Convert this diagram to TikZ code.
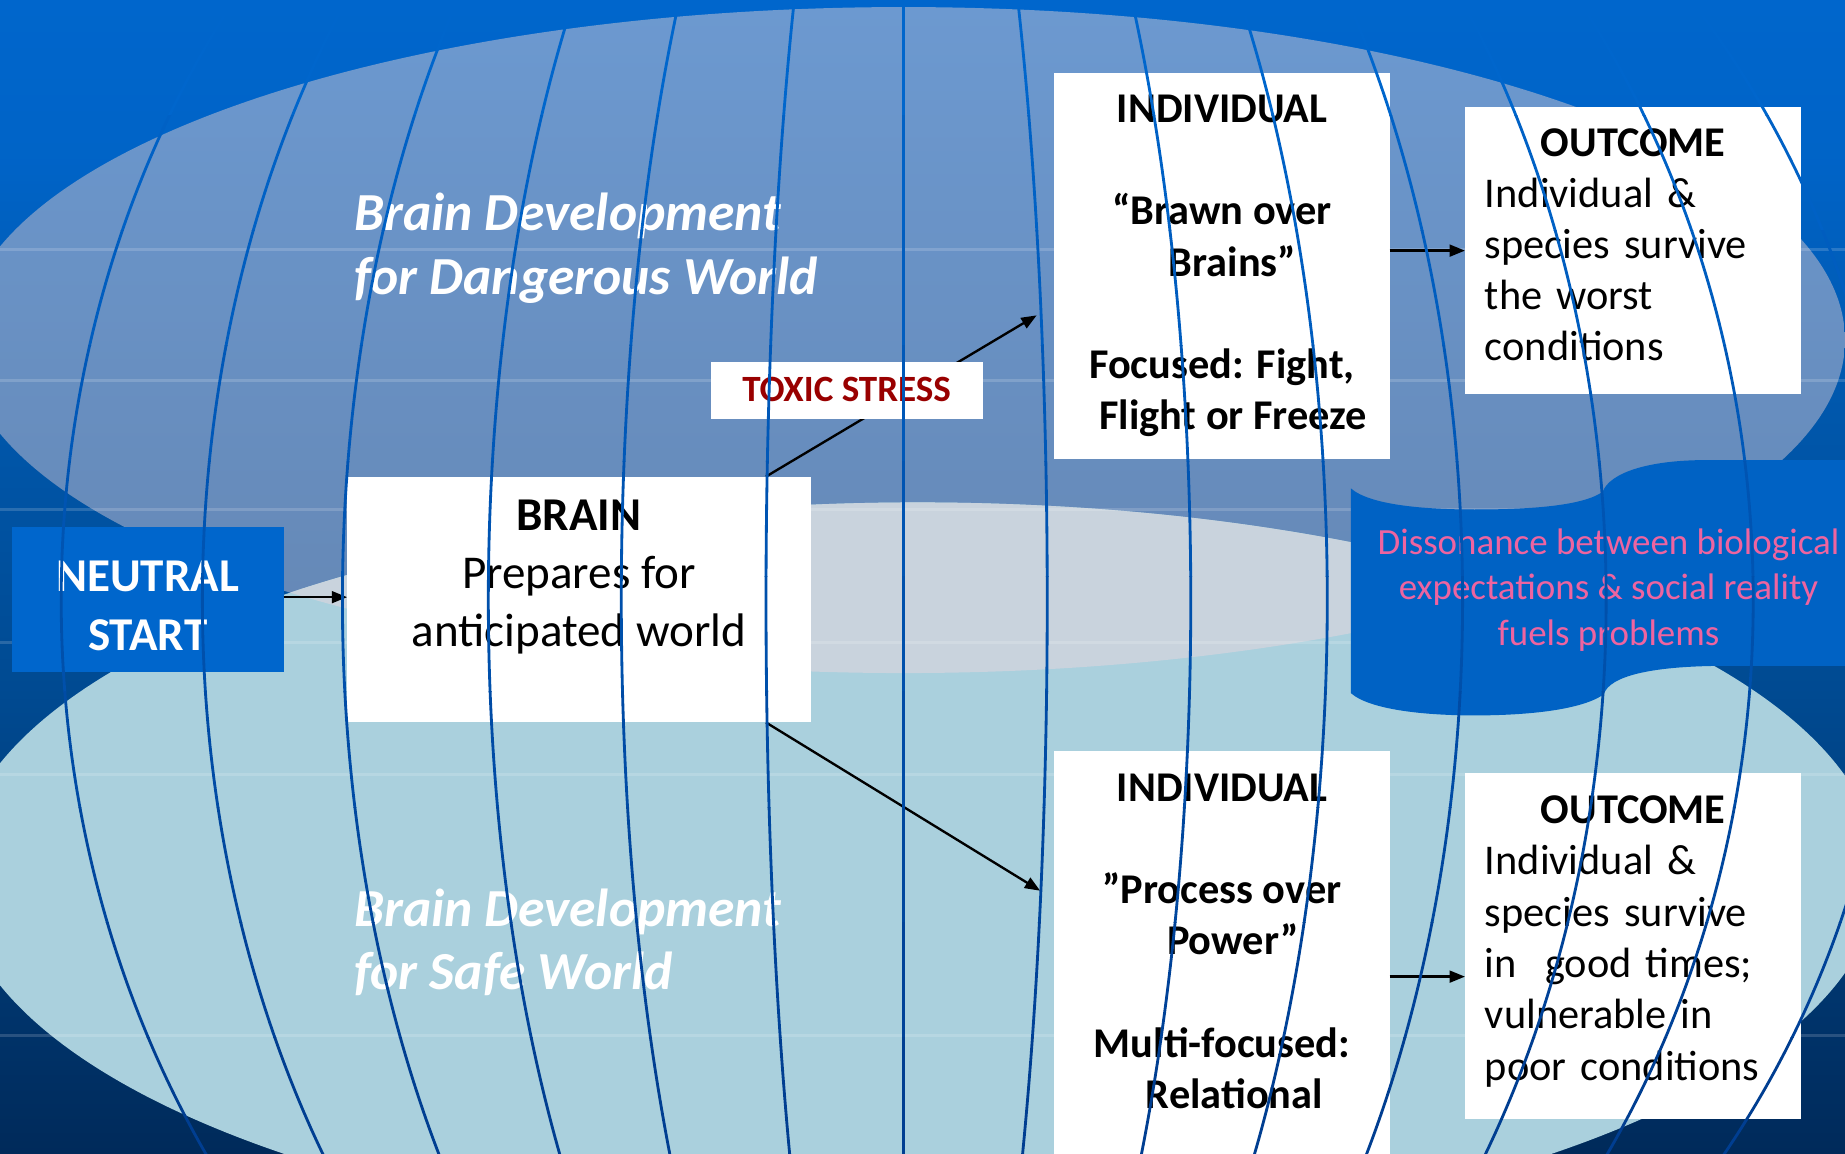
\documentclass[tikz,border=0pt]{standalone}
\usepackage{fontspec}
\setmainfont{Carlito}
\usetikzlibrary{arrows.meta}
\newcommand{\fsz}[2]{\fontsize{#1}{#2}\selectfont}
\definecolor{boxblue}{RGB}{0,102,204}
\definecolor{bannerblue}{RGB}{0,98,196}
\definecolor{steeltop}{RGB}{108,153,208}
\definecolor{steelbot}{RGB}{101,135,180}
\definecolor{lightblue}{RGB}{170,208,221}
\definecolor{greyblue}{RGB}{201,211,221}
\definecolor{toxicred}{RGB}{153,0,0}
\definecolor{pinktext}{RGB}{238,100,160}
\pgfdeclareverticalshading{bgshade}{100bp}{rgb(0bp)=(0,0.165,0.353); rgb(25bp)=(0,0.165,0.353); rgb(45bp)=(0,0.29,0.57); rgb(58bp)=(0,0.345,0.68); rgb(68bp)=(0,0.39,0.78); rgb(75bp)=(0,0.4,0.8); rgb(100bp)=(0,0.4,0.8)}
\tikzset{
  wbox/.style={rectangle, fill=white, draw=none, inner sep=0pt, outer sep=0pt},
  nbox/.style={rectangle, fill=boxblue, draw=none, inner sep=0pt, outer sep=0pt},
  arr/.style={draw=black, line width=2pt, -{Triangle[length=13pt,width=10pt]}},
  lbl/.style={inner sep=0pt, outer sep=0pt, align=center, text=black},
  headtxt/.style={inner sep=0pt, outer sep=0pt, align=left, text=white, font=\fsz{45.5}{54}\bfseries\itshape},
  meridian/.style={line width=2.4pt, line cap=round},
  stripe/.style={draw=white, draw opacity=0.16, line width=2.5pt},
}
\begin{document}
\begin{tikzpicture}[x=1pt,y=-1pt]
\useasboundingbox (0,0) rectangle (1568,980);
% background
\shade[shading=bgshade] (0,0) rectangle (1568,980);
% ellipses
\shade[top color=steeltop,bottom color=steelbot] (768,289) ellipse [x radius=800,y radius=283];
\fill[lightblue] (780,743) ellipse [x radius=817,y radius=316];
\begin{scope}
  \clip (768,289) ellipse [x radius=800,y radius=283];
  \fill[greyblue] (780,743) ellipse [x radius=817,y radius=316];
\end{scope}
% stripes
\foreach \yy in {212,323,433,546,658,880} \draw[stripe] (0,\yy) -- (1568,\yy);
% banner
\fill[bannerblue] (1148,415) .. controls (1165,430) and (1215,433) .. (1253,433)
  .. controls (1300,433) and (1345,430) .. (1362,418)
  .. controls (1368,402) and (1400,391) .. (1450,391) -- (1575,391) -- (1575,566) -- (1454,566)
  .. controls (1405,567) and (1368,574) .. (1363,590)
  .. controls (1345,603) and (1300,608) .. (1253,608)
  .. controls (1215,608) and (1165,604) .. (1148,589) -- cycle;
% boxes
\node[nbox, minimum width=231pt, minimum height=123pt] (neutral) at (125.5,509.5) {};
\node[wbox, minimum width=394pt, minimum height=209pt] (brain) at (492,509.5) {};
\node[wbox, minimum width=285pt, minimum height=328pt] (indtop) at (1038.5,226) {};
\node[wbox, minimum width=286pt, minimum height=244pt] (outtop) at (1388,213) {};
\node[wbox, minimum width=285pt, minimum height=357pt] (indbot) at (1038.5,816.5) {};
\node[wbox, minimum width=286pt, minimum height=294pt] (outbot) at (1388,804) {};
% arrows
\draw[arr] ([yshift=2pt]neutral.east) -- ([yshift=2pt]brain.west);
\draw[arr] ([xshift=159pt]brain.north) -- ([xshift=-15pt,yshift=-42pt]indtop.west);
\draw[arr] ([xshift=159pt]brain.south) -- ([xshift=-12pt,yshift=59.5pt]indbot.west);
\draw[arr] (indtop.east |- outtop.west) -- (outtop.west);
\coordinate (obw) at ([yshift=-26pt]outbot.west);
\draw[arr] (indbot.east |- obw) -- (obw);
% toxic stress box (over its arrow)
\node[wbox, minimum width=231pt, minimum height=48pt] (toxic) at (719.5,332) {};
% texts
\node[headtxt, anchor=west] (head1) at (301,211) {Brain Development\\for Dangerous World};
\node[headtxt, anchor=west] (head2) at (301,801) {Brain Development\\for Safe World};
\node[lbl, text=white, font=\fsz{40}{50}\bfseries] (neutraltxt) at (125.5,515) {NEUTRAL\\START};
\node[lbl, font=\fsz{40}{49.5}] (braintxt) at (492,490.5) {\textbf{BRAIN}\\Prepares for\\anticipated world};
\node[lbl, text=toxicred, font=\fsz{31.5}{36}\bfseries] (toxictxt) at (719.5,331) {TOXIC STRESS};
\node[lbl, font=\fsz{36}{43.5}\bfseries] (indtoptxt) at (1038.5,226)
  {INDIVIDUAL\\[43.5pt]“Brawn over\\\hspace*{18pt}Brains”\\[43.5pt]Focused: Fight,\\\hspace*{19pt}Flight or Freeze};
\node[lbl, align=left, text width=252pt, font=\fsz{36}{43.5}] (outtoptxt) at (1388,208)
  {\hbox to\hsize{\hfil\textbf{OUTCOME}\hfil}\\Individual \&\\species survive\\the worst\\conditions};
\node[lbl, font=\fsz{36}{43.5}\bfseries] (indbottxt) at (1038.5,800)
  {INDIVIDUAL\\[43.5pt]”Process over\\\hspace*{19pt}Power”\\[43.5pt]Multi-focused:\\\hspace*{21pt}Relational};
\node[lbl, align=left, text width=252pt, font=\fsz{36}{43.6}] (outbottxt) at (1388,800)
  {\hbox to\hsize{\hfil\textbf{OUTCOME}\hfil}\\Individual \&\\species survive\\in\ \ good times;\\vulnerable in\\poor conditions};
\node[lbl, text=pinktext, font=\fsz{31.4}{38.5}] (disstxt) at (1367,501.5)
  {Dissonance between biological\\expectations \& social reality\\fuels problems};
% meridian lines, coloured in bands
\foreach \i in {0,...,9}{
  \pgfmathtruncatemacro{\gg}{102-4.4*\i}
  \pgfmathtruncatemacro{\bb}{204-6.5*\i}
  \definecolor{mcol}{RGB}{0,\gg,\bb}
  \pgfmathsetmacro{\ya}{\i*98-4}
  \pgfmathsetmacro{\yb}{\i*98+102}
  \begin{scope}
    \clip (-10,\i*98) rectangle (1580,\i*98+98);
    \foreach \m in {52,172,291,415,528,651,768,890,1012,1128,1243,1365,1490,1610}
      \draw[meridian, draw=mcol] plot[domain=\ya:\yb, samples=14, variable=\t]
        ({768+(\m-768)*sqrt(1-((\t-510)/840)^2)},\t);
  \end{scope}
}
\end{tikzpicture}
\end{document}
